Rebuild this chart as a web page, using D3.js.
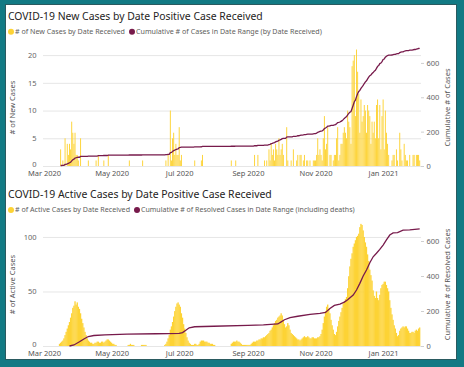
<!DOCTYPE html>
<html>
<head>
<meta charset="utf-8">
<script src="https://cdn.jsdelivr.net/npm/d3@7"></script>
<style>
  html, body { margin: 0; padding: 0; background: #127a84; }
  svg { display: block; }
  text { font-family: "Segoe UI", "Noto Sans", sans-serif; }
</style>
</head>
<body>
<svg id="chart" width="464" height="367"></svg>
<script>
// first day of the daily series, and the right end of the time axis
const startDate = "2020-03-01";
const endDate = "2021-02-04";

// # of new cases by date received, one value per day from Mar 1 2020
const newCases = [
  0,0,0,0,0,0,0,0,0,0,0,0,0,0,0,3,0,1,0,5,0,4,2,4,3,8,6,4,6,2,2,          // Mar
  1,0,5,0,0,0,0,0,0,1,0,0,0,0,0,0,1,0,2,0,0,0,0,1,0,0,0,2,0,0,            // Apr
  0,0,0,0,0,0,0,0,0,0,0,0,0,0,0,0,1,0,0,0,0,0,0,0,0,0,0,0,1,0,0,          // May
  0,0,0,0,0,0,0,0,0,0,0,0,0,0,0,0,0,0,1,0,2,0,10,1,5,6,2,4,2,2,           // Jun
  7,1,2,0,0,0,0,0,0,0,0,0,0,0,1,0,0,0,0,0,1,2,0,0,0,0,0,0,0,0,0,          // Jul
  0,0,0,0,0,0,0,0,0,0,0,0,0,0,0,0,1,0,0,0,1,0,0,0,0,0,0,0,0,0,0,          // Aug
  0,0,0,0,0,0,2,0,0,2,0,0,0,0,0,1,0,1,0,3,1,4,2,3,1,4,3,2,5,2,            // Sep
  3,4,2,0,0,7,1,0,0,1,0,3,0,0,1,2,0,2,2,0,1,2,0,1,1,0,1,0,0,1,1,          // Oct
  1,2,5,2,3,2,1,5,9,3,4,7,0,2,2,0,1,2,2,5,7,1,2,4,4,6,7,6,5,10,           // Nov
  8,7,4,18,19,20,9,21,17,13,6,12,8,9,11,10,6,11,10,9,4,8,6,8,5,11,12,5,11,3,9, // Dec
  12,3,10,6,4,2,0,0,1,2,2,0,3,1,0,6,3,1,0,4,2,1,1,0,2,0,0,2,2,0,2,        // Jan
  2,2,1                                                                   // Feb
];

// # of active cases by date received, one value per day from Mar 1 2020
const activeCases = [
  0,0,0,0,0,0,0,0,0,0,0,0,0,0,2,3,4,5,7,10,13,16,19,22,26,30,35,37,41,38,40,                  // Mar
  36,34,30,25,21,17,13,10,7,5,4,3,3,2,2,3,3,4,4,3,3,4,4,3,4,5,6,6,5,4,                        // Apr
  3,2,2,1,1,0,0,0,0,0,0,0,0,0,0,1,1,2,1,1,1,0,0,0,0,0,0,1,1,1,1,                              // May
  1,0,0,0,0,0,0,0,0,0,0,0,0,0,0,0,0,1,2,4,7,10,15,18,22,27,32,36,39,40,                       // Jun
  38,36,30,26,20,16,12,8,5,3,2,1,1,1,2,2,1,1,2,4,5,5,5,4,4,4,3,3,2,2,2,                       // Jul
  1,1,0,0,0,0,0,0,0,0,0,0,0,0,0,0,2,3,4,4,4,5,4,4,3,2,1,1,1,1,1,                              // Aug
  1,1,1,2,3,4,4,4,5,5,6,6,7,7,8,8,9,10,11,12,14,15,17,19,21,23,24,26,27,28,                   // Sep
  30,28,24,20,17,18,21,19,15,12,11,10,9,8,7,6,6,5,6,7,8,9,8,8,9,8,7,7,8,8,7,                  // Oct
  7,7,8,8,9,11,15,21,27,32,36,38,34,30,24,19,15,11,10,13,18,23,27,31,35,39,41,43,45,53,       // Nov
  64,73,80,85,91,94,97,100,101,103,109,112,111,106,100,95,91,84,78,70,65,60,51,46,44,50,44,42,47,53,56, // Dec
  57,59,59,56,53,50,42,35,29,24,19,16,12,9,10,14,16,17,18,17,18,18,16,14,12,12,13,13,12,14,15, // Jan
  14,16,17                                                                                    // Feb
];

// cumulative # of resolved cases (including deaths), read at these dates
const resolvedDates = [
  "2020-03-24","2020-03-28","2020-04-02","2020-04-06","2020-04-10","2020-04-15","2020-04-25",
  "2020-05-15","2020-06-10","2020-07-01","2020-07-04","2020-07-07","2020-07-10","2020-07-15",
  "2020-08-01","2020-09-01","2020-09-15","2020-09-28","2020-10-01","2020-10-04","2020-10-09",
  "2020-10-16","2020-10-27","2020-11-05","2020-11-10","2020-11-14","2020-11-18","2020-11-23",
  "2020-11-27","2020-11-30","2020-12-05","2020-12-08","2020-12-11","2020-12-14","2020-12-17",
  "2020-12-20","2020-12-23","2020-12-26","2020-12-29","2021-01-01","2021-01-04","2021-01-07",
  "2021-01-10","2021-01-14","2021-01-19","2021-01-25","2021-02-03"
];
const resolvedTotals = [
  0, 6, 24, 40, 54, 60, 64,
  68, 70, 72, 77, 90, 104, 110,
  113, 118, 121, 126, 138, 150, 162,
  170, 181, 187, 192, 214, 232, 240,
  251, 264, 291, 320, 358, 400, 434,
  476, 510, 530, 552, 577, 606, 634,
  646, 648, 662, 664, 670
];

const monthTicks = ["2020-03-01","2020-05-01","2020-07-01","2020-09-01","2020-11-01","2021-01-01"];
const newCaseTicks = [0, 5, 10, 15, 20];
const cumCaseTicks = [0, 200, 400, 600];
const activeTicks = [0, 50, 100];
const resolvedTicks = [0, 200, 400, 600];

const yellow = "#fdd335";
const purple = "#771a4b";

const parse = d3.timeParse("%Y-%m-%d");
const t0 = parse(startDate);
const days = newCases.map((v, i) => d3.timeDay.offset(t0, i));

const svg = d3.select("#chart");

// white card on the teal background
svg.append("rect")
  .attr("x", 5.5).attr("y", 4.5)
  .attr("width", 451).attr("height", 355)
  .attr("fill", "#fff")
  .attr("stroke", "#2a5a60");

const x = d3.scaleTime()
  .domain([t0, parse(endDate)])
  .range([44, 420.8]);

// shrink / grow a text so that it spans the given width
function fit(sel, width) {
  const fs = parseFloat(sel.attr("font-size"));
  const w = sel.node().getComputedTextLength();
  sel.attr("font-size", (fs * width / w).toFixed(2));
}

function drawPanel(p) {
  const g = svg.append("g");
  const yL = d3.scaleLinear().domain([0, p.leftMax]).range([p.bottom, p.top]);
  const yR = d3.scaleLinear().domain([0, p.rightMax]).range([p.bottom, p.top]);

  g.append("text")
    .attr("x", 8).attr("y", p.titleY)
    .attr("font-size", 13)
    .attr("fill", "#252423")
    .text(p.title)
    .call(fit, p.titleW);

  p.legend.forEach(item => {
    g.append("circle")
      .attr("cx", item.cx).attr("cy", p.legendY)
      .attr("r", 3)
      .attr("fill", item.color);
    g.append("text")
      .attr("x", item.cx + 4).attr("y", p.legendY)
      .attr("dy", "0.35em")
      .attr("font-size", 8)
      .attr("fill", "#605e5c")
      .text(item.label)
      .call(fit, item.w);
  });

  // left axis with gridlines
  const gl = g.append("g")
    .attr("transform", "translate(43,0)")
    .call(d3.axisLeft(yL).tickValues(p.leftTicks).tickSize(-378).tickPadding(6.5));
  gl.select(".domain").remove();
  gl.selectAll("line").attr("stroke", "#e6e6e6");
  gl.selectAll("text").attr("fill", "#666").attr("font-size", 7.5);
  // lift the zero label a little so it clears the date labels
  gl.selectAll(".tick").filter(d => d === 0).select("text").attr("dy", "0.1em");

  // right axis
  const gr = g.append("g")
    .attr("transform", "translate(421,0)")
    .call(d3.axisRight(yR).tickValues(p.rightTicks).tickSize(3).tickPadding(2.5));
  gr.select(".domain").remove();
  gr.selectAll("line").attr("stroke", "#cfcfcf");
  gr.selectAll("text").attr("fill", "#666").attr("font-size", 7.5);

  // x axis
  const gx = g.append("g")
    .attr("transform", `translate(0,${p.bottom})`)
    .call(d3.axisBottom(x).tickValues(monthTicks.map(parse))
      .tickFormat(d3.timeFormat("%b %Y")).tickSize(0).tickPadding(4.5));
  gx.select(".domain").remove();
  gx.selectAll("text").attr("fill", "#555").attr("font-size", 7.5);

  // axis titles
  const mid = (p.top + p.bottom) / 2;
  g.append("text")
    .attr("transform", `translate(12,${mid}) rotate(-90)`)
    .attr("text-anchor", "middle").attr("dy", "0.35em")
    .attr("font-size", 7.5).attr("fill", "#555")
    .text(p.leftTitle);
  g.append("text")
    .attr("transform", `translate(447.5,${mid}) rotate(-90)`)
    .attr("text-anchor", "middle").attr("dy", "0.35em")
    .attr("font-size", 7.5).attr("fill", "#555")
    .text(p.rightTitle);

  // bars
  const bars = p.values.map((v, i) => ({ date: days[i], v })).filter(d => d.v > 0);
  g.append("g").selectAll("rect")
    .data(bars)
    .join("rect")
    .attr("x", d => x(d.date) - p.barW / 2)
    .attr("y", d => yL(d.v))
    .attr("width", p.barW)
    .attr("height", d => p.bottom - yL(d.v))
    .attr("fill", yellow);

  // cumulative line
  g.append("path")
    .datum(p.line)
    .attr("fill", "none")
    .attr("stroke", purple)
    .attr("stroke-width", 1.3)
    .attr("d", d3.line().x(d => x(d.date)).y(d => yR(d.v)));
}

// cumulative new cases, from the first day with a case
const cum = Array.from(d3.cumsum(newCases));
const first = newCases.findIndex(v => v > 0);
const cumLine = cum.map((v, i) => ({ date: days[i], v })).slice(first);

const resolvedLine = resolvedDates.map((d, i) => ({ date: parse(d), v: resolvedTotals[i] }));

drawPanel({
  title: "COVID-19 New Cases by Date Positive Case Received",
  titleY: 19.5, titleW: 255,
  legendY: 31.7,
  legend: [
    { cx: 11, color: yellow, label: "# of New Cases by Date Received", w: 110 },
    { cx: 132, color: purple, label: "Cumulative # of Cases in Date Range (by Date Received)", w: 186 }
  ],
  top: 49, bottom: 166,
  leftMax: 21.1, rightMax: 681,
  leftTicks: newCaseTicks, rightTicks: cumCaseTicks,
  leftTitle: "# of New Cases", rightTitle: "Cumulative # of Cases",
  values: newCases, barW: 0.95,
  line: cumLine
});

drawPanel({
  title: "COVID-19 Active Cases by Date Positive Case Received",
  titleY: 197.5, titleW: 264,
  legendY: 210,
  legend: [
    { cx: 11, color: yellow, label: "# of Active Cases by Date Received", w: 115 },
    { cx: 137, color: purple, label: "Cumulative # of Resolved Cases in Date Range (including deaths)", w: 214 }
  ],
  top: 223, bottom: 346,
  leftMax: 112.8, rightMax: 703,
  leftTicks: activeTicks, rightTicks: resolvedTicks,
  leftTitle: "# of Active Cases", rightTitle: "Cumulative # of Resolved Cases",
  values: activeCases, barW: 1.3,
  line: resolvedLine
});
</script>
</body>
</html>
